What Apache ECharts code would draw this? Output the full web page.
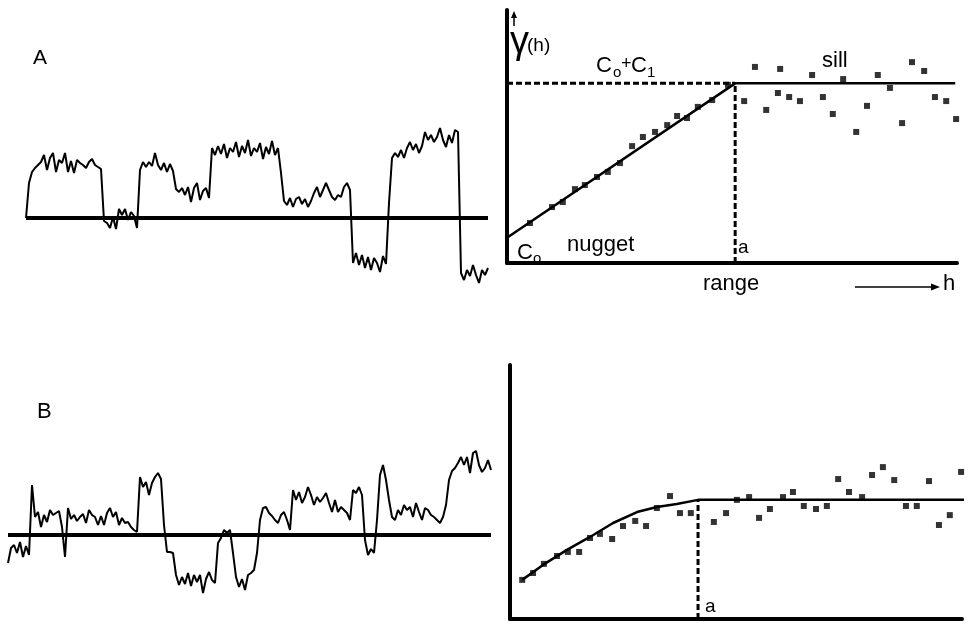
<!DOCTYPE html>
<html><head><meta charset="utf-8">
<script src="https://cdn.jsdelivr.net/npm/echarts@6/dist/echarts.min.js"></script>
<style>html,body{margin:0;padding:0;background:#fff}#c{width:969px;height:625px}</style>
</head><body><div id="c"></div>
<script>
// Signal A (values relative to baseline, equally spaced samples)
const sigA = [0,35,46,50,53,56,63,48,60,65,
46,58,55,65,46,57,45,58,55,53,
50,56,59,53,51,49,-3,-5,-10,1,
-11,9,3,9,-2,6,2,-10,48,56,
51,56,52,65,53,48,55,46,54,47,
29,26,30,23,31,16,30,35,18,27,
30,20,70,63,72,64,74,60,70,66,
76,61,72,65,78,62,70,66,75,59,
71,64,77,63,70,45,17,13,20,11,
19,21,14,19,11,17,25,31,21,28,
35,28,21,18,23,21,31,35,28,-45,
-35,-47,-37,-50,-39,-52,-40,-45,-54,-38,
-46,15,60,65,61,68,60,70,76,68,
74,65,72,86,78,83,76,81,90,78,
71,83,75,88,86,-55,-62,-52,-58,-47,
-57,-65,-52,-57,-50];
// Signal B
const sigB = [-28,-13,-10,-18,-7,-22,-11,-20,50,18,
23,8,20,13,25,20,22,24,8,-22,
27,16,20,14,18,21,12,25,20,18,
10,19,10,22,27,18,23,10,17,12,
13,8,5,3,58,48,53,40,52,58,
62,56,10,-17,-17,-18,-40,-50,-42,-49,
-38,-51,-40,-47,-40,-58,-44,-37,-45,-48,
-8,-3,5,2,5,-18,-42,-52,-44,-55,
-40,-38,-35,-18,15,27,28,22,19,15,
12,20,23,15,5,45,35,43,32,38,
48,40,30,38,33,37,42,32,23,35,
23,28,25,22,15,45,42,48,40,-5,
-20,-14,-18,15,60,70,55,35,18,15,
25,20,30,25,28,18,32,23,15,27,
25,20,18,15,12,18,30,55,64,67,
72,78,70,78,62,82,84,70,63,67,
75,65];
// Variogram A: experimental points (lag h, gamma)
const hTop = [5.1,10,12.4,15.1,17.3,20,22.4,25.1,27.8,30.2,32.9,35.6,37.8,40,42.4,45.6,49.1,
52.7,55.1,57.6,60.2,60.7,62.7,65.1,67.8,70.2,72.4,74.7,77.6,80,82.4,85.1,87.8,90,92.7,95.1,97.6,99.8];
const gTop = [15.8,22.1,24.1,29.2,30.8,34,36,39.5,46.2,49.8,51.8,54.5,58.1,57.3,61.7,64.4,70.4,
64,77.5,60.5,67.2,76.7,65.6,64,74.3,65.6,58.9,72.7,51.8,62.1,74.3,69.2,55.3,79.4,75.9,65.6,64,56.9];
// Variogram A model (linear with sill): nugget, sill, range
const topModelH = [0, 50.7, 99.6];
const topModelG = [10, 71, 71];
// Variogram B: experimental points
const hBot = [2.7,5.1,7.5,10.4,12.8,15.3,17.7,19.9,22.6,25,27.7,30.1,32.5,35.4,37.6,40,45.1,47.8,50.2,52.9,
55.1,57.5,60.4,62.6,65,67.7,70.1,72.6,75,77.9,80.1,82.5,85,87.6,90,92.7,94.9,97.3,99.8];
const gBot = [15.4,18.1,21.7,24.8,26.4,26.4,31.9,33.5,31.5,36.6,38.6,36.6,43.7,48.4,41.7,41.7,38.2,41.7,46.9,48,
39.8,43.3,48,50,44.5,43.3,44.5,55.1,50,48,56.7,59.8,54.7,44.5,44.5,54.3,37,40.9,57.9];
// Variogram B model curve
const botModelH = [2.7,7.3,12.6,17.7,22.8,28.1,32.5,36.9,41.6,101.5];
const botModelG = [15.4,21.3,27.2,32.3,37.8,42.1,44.1,45.3,46.9,46.9];
const botRange = 41.6, botSill = 46.9;

const FONT = '"Liberation Sans", Arial, Helvetica, sans-serif';
const chart = echarts.init(document.getElementById('c'), null, {renderer:'canvas'});
const zip = (a,b) => a.map((v,i)=>[v,b[i]]);
const hidden = {show:false};
function sigAxisX(n, gi){ return {type:'value', gridIndex:gi, min:0, max:n-1, show:false}; }
function sigAxisY(gi){ return {type:'value', gridIndex:gi, min:-80, max:100, show:false}; }
function vAxis(gi){ return {type:'value', gridIndex:gi, min:0, max:100,
  axisLine:{show:true, onZero:false, lineStyle:{color:'#000', width:4}}, axisTick:hidden, axisLabel:hidden, splitLine:hidden}; }
const baseMark = {silent:true, symbol:['none','none'], label:{show:false},
  lineStyle:{color:'#000', width:4, type:'solid'}, data:[{yAxis:0}]};
const dash = {color:'#000', width:3, type:[6,3]};
const tm = topModelH, tg = topModelG;

function txt(x,y,t,size){ return {type:'text', x:x, y:y, silent:true,
  style:{text:t, font:size+'px '+FONT, fill:'#000', textAlign:'left', textVerticalAlign:'top', align:'left', verticalAlign:'top'}}; }

chart.setOption({
  animation:false,
  backgroundColor:'#fff',
  grid:[
    {left:26, top:118, width:462, height:180},
    {left:507, top:10, width:450, height:253},
    {left:8, top:435, width:483, height:180},
    {left:510, top:365, width:452, height:254}
  ],
  xAxis:[sigAxisX(sigA.length,0), vAxis(1), sigAxisX(sigB.length,2), vAxis(3)],
  yAxis:[sigAxisY(0), vAxis(1), sigAxisY(2), vAxis(3)],
  series:[
    {type:'line', xAxisIndex:0, yAxisIndex:0, symbol:'none', data:sigA.map((v,i)=>[i,v]),
      lineStyle:{color:'#000', width:2}, markLine:baseMark},
    {type:'line', xAxisIndex:2, yAxisIndex:2, symbol:'none', data:sigB.map((v,i)=>[i,v]),
      lineStyle:{color:'#000', width:2}, markLine:baseMark},
    // top variogram
    {type:'line', xAxisIndex:1, yAxisIndex:1, symbol:'none', data:[[0,tg[1]],[tm[1],tg[1]]], lineStyle:dash},
    {type:'line', xAxisIndex:1, yAxisIndex:1, symbol:'none', data:[[tm[1],0],[tm[1],tg[1]]], lineStyle:dash},
    {type:'line', xAxisIndex:1, yAxisIndex:1, symbol:'none', data:zip(topModelH, topModelG),
      lineStyle:{color:'#000', width:2.5}},
    {type:'scatter', xAxisIndex:1, yAxisIndex:1, symbol:'rect', symbolSize:6, data:zip(hTop,gTop),
      itemStyle:{color:'#000'}},
    // bottom variogram
    {type:'line', xAxisIndex:3, yAxisIndex:3, symbol:'none', data:[[botRange,0],[botRange,botSill]], lineStyle:dash},
    {type:'line', xAxisIndex:3, yAxisIndex:3, symbol:'none', clip:false, data:zip(botModelH, botModelG),
      lineStyle:{color:'#000', width:2.5}},
    {type:'scatter', xAxisIndex:3, yAxisIndex:3, symbol:'rect', symbolSize:6, data:zip(hBot,gBot),
      itemStyle:{color:'#000'}}
  ],
  graphic:[
    txt(33,48,'A',21),
    txt(37,401,'B',22),
    // gamma(h) with up arrow
    {type:'line', silent:true, shape:{x1:514,y1:26,x2:514,y2:15}, style:{stroke:'#000', lineWidth:1.5}},
    {type:'polygon', silent:true, shape:{points:[[511,18],[517,18],[514,11]]}, style:{fill:'#000'}},
    txt(510,24,'γ',38),
    txt(527,36,'(h)',19),
    // C0 + C1
    txt(596,55,'C',22), txt(613,65,'o',15), txt(621,55,'+',18), txt(631,55,'C',22), txt(647,65,'1',15),
    txt(822,50,'sill',22),
    txt(517,242,'C',22), txt(533,251,'o',15),
    txt(567,234,'nugget',22),
    txt(738,238,'a',19),
    txt(703,273,'range',22),
    {type:'line', silent:true, shape:{x1:855,y1:287,x2:934,y2:287}, style:{stroke:'#000', lineWidth:1.5}},
    {type:'polygon', silent:true, shape:{points:[[931,283.5],[940,287],[931,290.5]]}, style:{fill:'#000'}},
    txt(943,273,'h',22),
    txt(705,597,'a',19)
  ]
});
</script></body></html>
